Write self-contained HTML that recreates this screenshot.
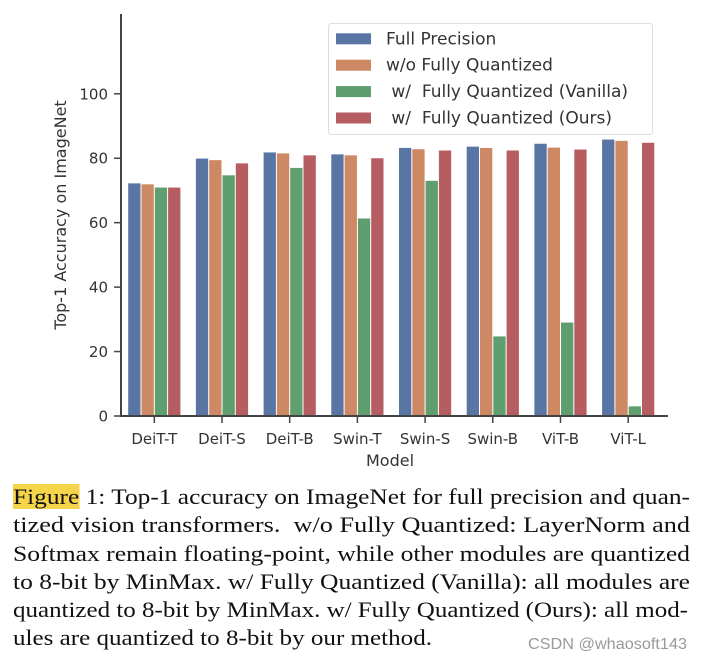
<!DOCTYPE html>
<html><head><meta charset="utf-8"><style>
body{margin:0;background:#fff;width:702px;height:662px;overflow:hidden;position:relative}
svg text{font-family:"DejaVu Sans","Liberation Sans",sans-serif;fill:#333;white-space:pre}
#cap{position:absolute;left:13px;top:483px;font-family:"Liberation Serif",serif;font-size:22.5px;line-height:28.3px;color:#111;white-space:nowrap}
#cap .ln{display:block;transform-origin:0 0;width:max-content}
.hl{background:#f7d54a}
#wm{position:absolute;left:528px;top:636px;font-family:"Liberation Sans",sans-serif;font-size:16px;color:#999;transform-origin:0 0}
</style></head><body>
<svg id="chart" width="702" height="480" style="position:absolute;left:0;top:0"></svg>
<div id="cap">
<span class="ln" data-w="677"><span class="hl">Figure</span> 1: Top-1 accuracy on ImageNet for full precision and quan-</span>
<span class="ln" data-w="677">tized vision transformers.&nbsp; w/o Fully Quantized: LayerNorm and</span>
<span class="ln" data-w="677">Softmax remain floating-point, while other modules are quantized</span>
<span class="ln" data-w="677">to 8-bit by MinMax. w/ Fully Quantized (Vanilla): all modules are</span>
<span class="ln" data-w="675">quantized to 8-bit by MinMax. w/ Fully Quantized (Ours): all mod-</span>
<span class="ln" data-w="419">ules are quantized to 8-bit by our method.</span>
</div>
<div id="wm">CSDN @whaosoft143</div>
<script>
const categories=["DeiT-T","DeiT-S","DeiT-B","Swin-T","Swin-S","Swin-B","ViT-B","ViT-L"];
const fullPrecision=[72.2,79.9,81.8,81.2,83.2,83.6,84.5,85.8];
const woFullyQuant=[71.9,79.4,81.5,80.9,82.8,83.2,83.3,85.4];
const vanilla=[70.9,74.7,77.0,61.3,73.0,24.7,29.0,3.0];
const ours=[70.9,78.4,80.9,80.0,82.4,82.4,82.7,84.8];
const seriesNames=["Full Precision","w/o Fully Quantized"," w/  Fully Quantized (Vanilla)"," w/  Fully Quantized (Ours)"];
const yTicks=[0,20,40,60,80,100];
const colors=["#5875a4","#cc8963","#5f9e6e","#b55d60"];
const series=[fullPrecision,woFullyQuant,vanilla,ours];
const NS="http://www.w3.org/2000/svg";
const svg=document.getElementById("chart");
const y=v=>416-v*3.222;
const xc=i=>154.3+i*67.7;
const bw=13.3;
function mk(t,a,p){const e=document.createElementNS(NS,t);for(const k in a)e.setAttribute(k,a[k]);(p||svg).appendChild(e);return e;}
series.forEach((s,si)=>s.forEach((v,i)=>{
 const r=mk("rect",{x:xc(i)-2*bw+si*bw+0.5,y:y(v),width:bw-1,height:y(0)-y(v),fill:colors[si]});
 
 
}));
mk("line",{x1:121,y1:14,x2:121,y2:417,stroke:"#444","stroke-width":2});
mk("line",{x1:120,y1:416,x2:668,y2:416,stroke:"#444","stroke-width":2});
yTicks.forEach(t=>{
 mk("line",{x1:114,y1:y(t),x2:121,y2:y(t),stroke:"#444","stroke-width":1.5});
 const e=mk("text",{x:108,y:y(t)+5.5,"text-anchor":"end","font-size":15});e.textContent=t;
 
 
});
categories.forEach((c,i)=>{
 mk("line",{x1:xc(i),y1:416,x2:xc(i),y2:423,stroke:"#444","stroke-width":1.5});
 const e=mk("text",{x:xc(i),y:444,"text-anchor":"middle","font-size":15});e.textContent=c;
 
 
});
const xt=mk("text",{x:390,y:466,"text-anchor":"middle","font-size":16});xt.textContent="Model";


const yt=mk("text",{x:0,y:0,"text-anchor":"middle","font-size":16,transform:"translate(66,215) rotate(-90)"});yt.textContent="Top-1 Accuracy on ImageNet";


const lg=mk("g",{});


mk("rect",{x:328.5,y:23.5,width:324,height:111,rx:3,fill:"#fff",stroke:"#ddd"},lg);
seriesNames.forEach((n,k)=>{
 const cy=38.3+k*26.4;
 mk("rect",{x:336,y:cy-5,width:35,height:11,fill:colors[k]},lg);
 const e=mk("text",{x:386,y:cy+6,"font-size":17},lg);e.textContent=n;
 
 
});
document.querySelectorAll('#cap .ln').forEach(l=>{
 const w=l.getBoundingClientRect().width;
 l.style.transform='scaleX('+(parseFloat(l.dataset.w)/w)+')';
});
const wm=document.getElementById('wm');
wm.style.transform='scaleX('+(159/wm.getBoundingClientRect().width)+')';
</script>
</body></html>
